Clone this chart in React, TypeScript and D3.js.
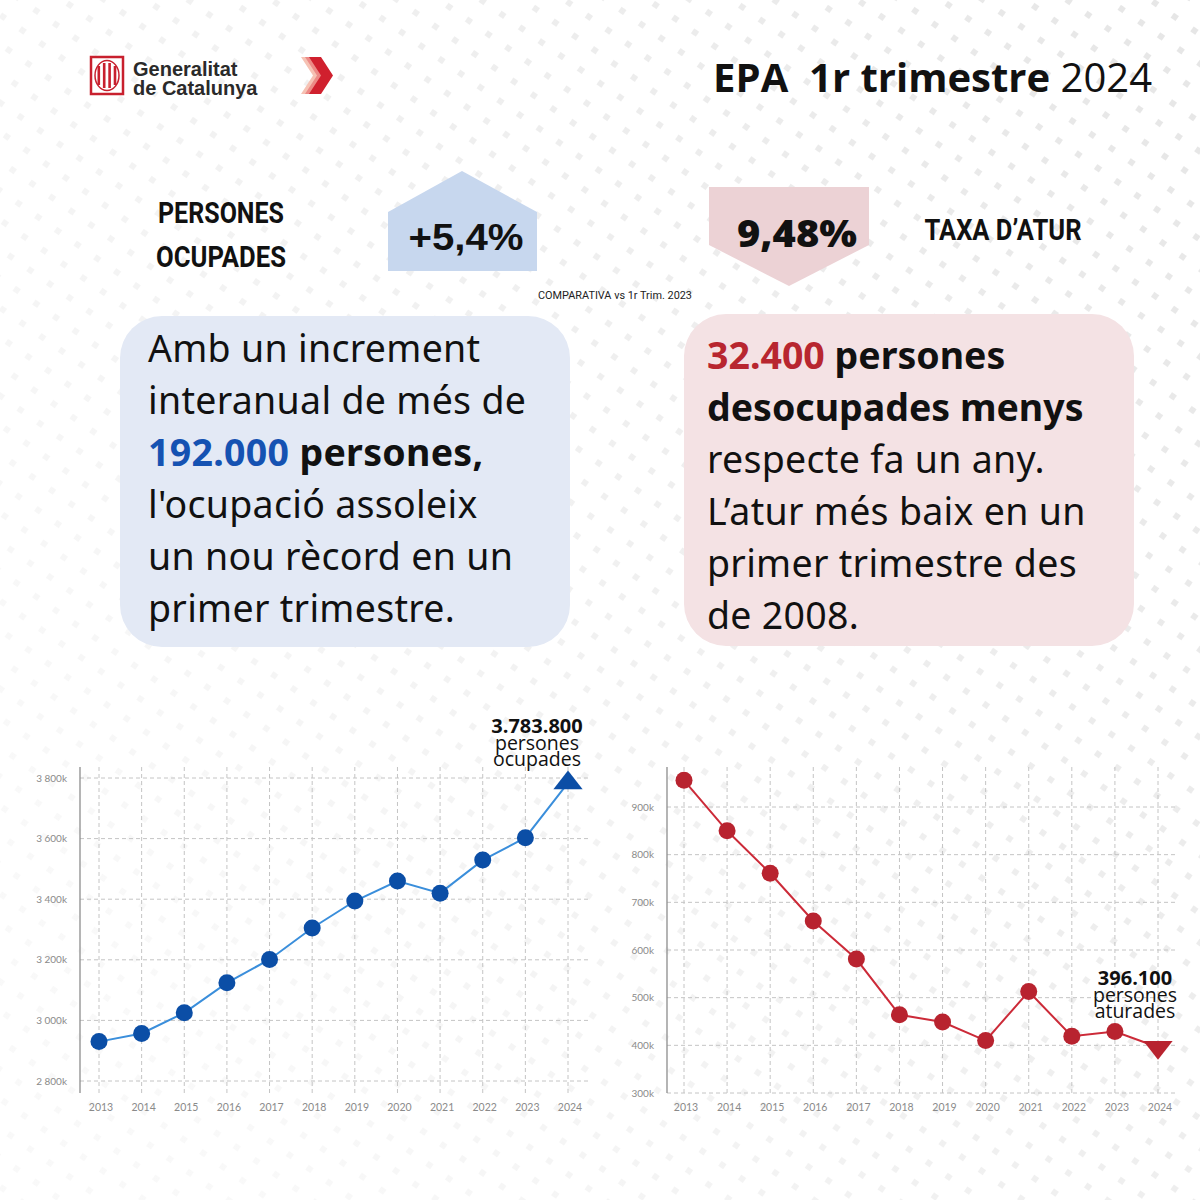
import React from "react";
import * as d3 from "d3";

// ---- Data ----
const years = [2013, 2014, 2015, 2016, 2017, 2018, 2019, 2020, 2021, 2022, 2023, 2024];
const occupiedK = [2930, 2957, 3025, 3124, 3201, 3305, 3394, 3460, 3420, 3529, 3603, 3783.8];
const unemployedK = [956, 850, 761, 661, 581, 464, 449, 410, 513, 419, 429, 396.1];
const occupiedTicks = [2800, 3000, 3200, 3400, 3600, 3800];
const unemployedTicks = [300, 400, 500, 600, 700, 800, 900];
const occupiedLabel = ["3.783.800", "persones", "ocupades"];
const unemployedLabel = ["396.100", "persones", "aturades"];

const W = 1200, H = 1200;
const LABEL_FONT = "Lato, 'Open Sans', sans-serif";
const BODY_FONT = "'Noto Sans', 'Open Sans', sans-serif";
const HEAD_FONT = "'Open Sans', 'Noto Sans', sans-serif";

type ChartProps = {
  values: number[];
  ticks: number[];
  xRange: [number, number];
  yDomain: [number, number];
  yRange: [number, number];
  axisX: number;
  gridRight: number;
  top: number;
  bottom: number;
  lineColor: string;
  pointColor: string;
  up: boolean;
  fmt: (v: number) => string;
  label: string[];
  labelX: number;
  labelY: number;
};

function LineChart(p: ChartProps) {
  const x = d3.scaleLinear().domain([years[0], years[years.length - 1]]).range(p.xRange);
  const y = d3.scaleLinear().domain(p.yDomain).range(p.yRange);
  const pts = years.map((yr, i) => [x(yr), y(p.values[i])] as [number, number]);
  const line = d3.line()(pts) || "";
  const last = pts[pts.length - 1];
  const tri = d3.symbol().type(d3.symbolTriangle).size(280)() || "";
  return (
    <g>
      {p.ticks.map((t) => (
        <g key={"h" + t}>
          <line x1={p.axisX} x2={p.gridRight} y1={y(t)} y2={y(t)} stroke="#c4c4c4" strokeWidth={1} strokeDasharray="4,3" />
          <text x={p.axisX - 13} y={y(t)} dy="0.35em" textAnchor="end" fontFamily={LABEL_FONT} fontSize={10} fill="#8a8a8a">
            {p.fmt(t)}
          </text>
        </g>
      ))}
      {years.map((yr) => (
        <g key={"v" + yr}>
          <line x1={x(yr)} x2={x(yr)} y1={p.top} y2={p.bottom} stroke="#c4c4c4" strokeWidth={1} strokeDasharray="4,3" />
          <text x={x(yr) + 2} y={p.bottom + 18} textAnchor="middle" fontFamily={LABEL_FONT} fontSize={10.5} fill="#8a8a8a">
            {yr}
          </text>
        </g>
      ))}
      <line x1={p.axisX} x2={p.axisX} y1={p.top} y2={p.bottom} stroke="#8d8d8d" strokeWidth={1.3} />
      <path d={line} fill="none" stroke={p.lineColor} strokeWidth={2} />
      {pts.slice(0, -1).map((pt, i) => (
        <circle key={i} cx={pt[0]} cy={pt[1]} r={8.5} fill={p.pointColor} />
      ))}
      <path d={tri} transform={`translate(${last[0]},${last[1]}) scale(1.15,0.85) rotate(${p.up ? 0 : 180})`} fill={p.pointColor} />
      <text x={p.labelX} y={p.labelY} textAnchor="middle" fontFamily={HEAD_FONT} fontSize={20} fontWeight={700} fill="#111">
        {p.label[0]}
      </text>
      <text x={p.labelX} y={p.labelY + 17} textAnchor="middle" fontFamily={HEAD_FONT} fontSize={19.5} fill="#111">
        {p.label[1]}
      </text>
      <text x={p.labelX} y={p.labelY + 33} textAnchor="middle" fontFamily={HEAD_FONT} fontSize={19.5} fill="#111">
        {p.label[2]}
      </text>
    </g>
  );
}

function Logo() {
  return (
    <g>
      <rect x={91} y={57} width={32} height={37} fill="#fff" stroke="#c8202e" strokeWidth={2.5} />
      <ellipse cx={107} cy={75.5} rx={12} ry={15} fill="#fff" stroke="#c8202e" strokeWidth={1.5} />
      {[0, 1, 2, 3].map((i) => (
        <rect key={i} x={97.5 + i * 5.4} y={63 + (i === 0 || i === 3 ? 3 : 0)} width={2.6} height={25 - (i === 0 || i === 3 ? 6 : 0)} fill="#c8202e" />
      ))}
      <text x={133} y={76} fontFamily="'Liberation Sans', Arial, sans-serif" fontSize={20} fontWeight={600} fill="#2a2a2a">Generalitat</text>
      <text x={133} y={95} fontFamily="'Liberation Sans', Arial, sans-serif" fontSize={20} fontWeight={600} fill="#2a2a2a">de Catalunya</text>
      {[
        { dx: -8, c: "#f6c2b4" },
        { dx: -4, c: "#ec8a86" },
        { dx: 0, c: "#d0202e" },
      ].map((s, i) => {
        const x0 = 309 + s.dx;
        return (
          <polygon
            key={i}
            points={`${x0},57 ${x0 + 12},57 ${x0 + 24},75.5 ${x0 + 12},94 ${x0},94 ${x0 + 12},75.5`}
            fill={s.c}
          />
        );
      })}
    </g>
  );
}

function Background() {
  return (
    <g>
      <defs>
        <pattern id="dots" width={24} height={24} patternUnits="userSpaceOnUse" patternTransform="rotate(35)">
          <rect x={9} y={9} width={6} height={6} fill="#e6e6e6" />
        </pattern>
        <linearGradient id="fade" x1="1" y1="0" x2="0" y2="0.6">
          <stop offset="0" stopColor="#fff" stopOpacity={0} />
          <stop offset="1" stopColor="#fff" stopOpacity={0.75} />
        </linearGradient>
      </defs>
      <rect x={0} y={0} width={W} height={H} fill="#fff" />
      <rect x={0} y={0} width={W} height={H} fill="url(#dots)" />
      <rect x={0} y={0} width={W} height={H} fill="url(#fade)" />
    </g>
  );
}

export default function App() {
  const fmtOcc = (v: number) => `${d3.format(",")(v).replace(",", " ")}k`;
  const fmtUn = (v: number) => `${v}k`;
  return (
    <svg width={W} height={H} viewBox={`0 0 ${W} ${H}`} style={{ position: "absolute", left: 0, top: 0, display: "block" }}>
      <Background />
      <Logo />
      <text x={1152} y={92} textAnchor="end" fontFamily={HEAD_FONT} fontSize={40} fill="#111" style={{ whiteSpace: "pre" }}>
        <tspan fontWeight={700}>{"EPA  1r trimestre "}</tspan>
        <tspan fontWeight={400}>2024</tspan>
      </text>

      {/* KPI left */}
      <text x={221} y={223} textAnchor="middle" fontFamily="Roboto, sans-serif" fontWeight={700} fontSize={29} fill="#111" textLength={126} lengthAdjust="spacingAndGlyphs">PERSONES</text>
      <text x={221} y={267} textAnchor="middle" fontFamily="Roboto, sans-serif" fontWeight={700} fontSize={29} fill="#111" textLength={130} lengthAdjust="spacingAndGlyphs">OCUPADES</text>
      <polygon points="388,212 462,171 537,212 537,271 388,271" fill="#c7d7ee" />
      <text x={466} y={250} textAnchor="middle" fontFamily="'Liberation Sans', Arial, sans-serif" fontWeight={700} fontSize={37} fill="#111" textLength={115} lengthAdjust="spacingAndGlyphs">+5,4%</text>

      {/* KPI right */}
      <polygon points="709,187 869,187 869,245 789,286 709,245" fill="#ecd2d5" />
      <text x={797} y={247} textAnchor="middle" fontFamily={HEAD_FONT} fontWeight={800} fontSize={37} fill="#111" textLength={120} lengthAdjust="spacingAndGlyphs">9,48%</text>
      <text x={1003} y={240} textAnchor="middle" fontFamily="Roboto, sans-serif" fontWeight={700} fontSize={29} fill="#111" textLength={157} lengthAdjust="spacingAndGlyphs">TAXA D’ATUR</text>
      <text x={615} y={299} textAnchor="middle" fontFamily="Roboto, sans-serif" fontSize={11} fill="#222" textLength={154} lengthAdjust="spacingAndGlyphs">COMPARATIVA vs 1r Trim. 2023</text>

      {/* Text boxes */}
      <rect x={120} y={316} width={450} height={331} rx={42} fill="#e3e9f5" />
      <g fontFamily={BODY_FONT} fontSize={37.5} fill="#111" letterSpacing={0.3}>
        <text x={148} y={362}>Amb un increment</text>
        <text x={148} y={414}>interanual de més de</text>
        <text x={148} y={466} fontWeight={700}>
          <tspan fill="#1552b2">192.000</tspan> persones,
        </text>
        <text x={148} y={518}>l'ocupació assoleix</text>
        <text x={148} y={570}>un nou rècord en un</text>
        <text x={148} y={622}>primer trimestre.</text>
      </g>
      <rect x={684} y={314} width={450} height={332} rx={42} fill="#f4e2e4" />
      <g fontFamily={BODY_FONT} fontSize={37.5} fill="#111" letterSpacing={0.3}>
        <text x={707} y={369} fontWeight={700} letterSpacing={0}>
          <tspan fill="#b8262f">32.400</tspan> persones
        </text>
        <text x={707} y={421} fontWeight={700} letterSpacing={0}>desocupades menys</text>
        <text x={707} y={473}>respecte fa un any.</text>
        <text x={707} y={525}>L’atur més baix en un</text>
        <text x={707} y={577}>primer trimestre des</text>
        <text x={707} y={629}>de 2008.</text>
      </g>

      <LineChart
        values={occupiedK}
        ticks={occupiedTicks}
        xRange={[99, 568]}
        yDomain={[2800, 3800]}
        yRange={[1081, 778]}
        axisX={80}
        gridRight={590}
        top={767}
        bottom={1093}
        lineColor="#3a8edb"
        pointColor="#0b4ea6"
        up={true}
        fmt={fmtOcc}
        label={occupiedLabel}
        labelX={537}
        labelY={733}
      />
      <LineChart
        values={unemployedK}
        ticks={unemployedTicks}
        xRange={[684, 1158]}
        yDomain={[300, 900]}
        yRange={[1093, 807]}
        axisX={667}
        gridRight={1175}
        top={767}
        bottom={1093}
        lineColor="#cc2a38"
        pointColor="#b8232f"
        up={false}
        fmt={fmtUn}
        label={unemployedLabel}
        labelX={1135}
        labelY={985}
      />
    </svg>
  );
}
